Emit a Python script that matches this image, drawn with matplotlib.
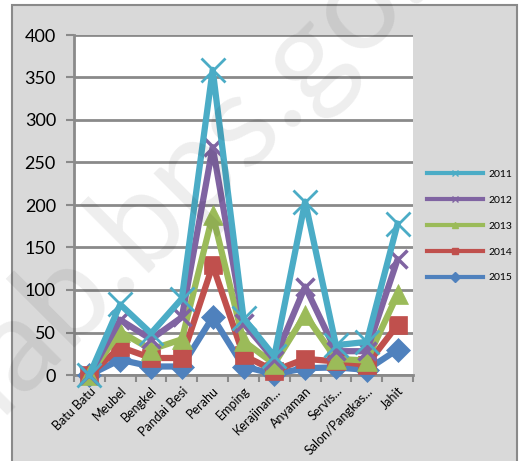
import matplotlib
matplotlib.use("Agg")
import matplotlib.pyplot as plt
from matplotlib.lines import Line2D
from matplotlib.patches import Rectangle

plt.rcParams['font.family'] = ['Lato', 'DejaVu Sans']

categories = ["Batu Batu", "Meubel", "Bengkel", "Pandai Besi", "Perahu", "Emping",
              "Kerajinan...", "Anyaman", "Servis...", "Salon/Pangkas...", "Jahit"]
v2011 = [0, 83, 49, 90, 359, 67, 22, 204, 35, 39, 178]
v2012 = [0, 65, 42, 68, 268, 61, 18, 104, 28, 28, 136]
v2013 = [0, 51, 30, 42, 188, 40, 13, 71, 19, 17, 95]
v2014 = [0, 33, 20, 20, 129, 23, 5, 19, 16, 12, 59]
v2015 = [0, 18, 10, 10, 68, 10, 1, 8, 9, 6, 30]
years = ["2011", "2012", "2013", "2014", "2015"]

W, H = 521, 461
fig = plt.figure(figsize=(W/100, H/100), dpi=100)
fig.patch.set_facecolor('white')
bg = Rectangle((12/W, -0.05), (517-12)/W, 1.05-5/H, transform=fig.transFigure,
               facecolor='#d9d9d9', edgecolor='#8a8a8a', linewidth=1.5, zorder=-10)
fig.add_artist(bg)

ax = fig.add_axes([74/W, 1-375/H, (413-74)/W, (375-35)/H])
ax.set_zorder(1)
ax.set_facecolor('white')

x = list(range(len(categories)))
series = [
    (v2015, '#4f81bd', 'D', 12, 1, "2015"),
    (v2014, '#c0504d', 's', 13, 1, "2014"),
    (v2013, '#9bbb59', '^', 14, 1, "2013"),
    (v2012, '#8064a2', 'x', 13, 2.5, "2012"),
    (v2011, '#4bacc6', 'x', 17, 2, "2011"),
]
for vals, col, mk, ms, mew, lab in series:
    ax.plot(x, vals, color=col, linewidth=4.5, marker=mk, markersize=ms,
            markeredgewidth=mew if mk == 'x' else 0.5, markeredgecolor=col,
            markerfacecolor=col, zorder=3, clip_on=False)

ax.set_xlim(-0.5, len(categories) - 0.5)
ax.set_ylim(0, 400)
ax.set_yticks(range(0, 401, 50))
ax.tick_params(axis='y', labelsize=13, length=6, width=1.5, color='#8a8a8a', pad=7)
ax.yaxis.grid(True, color='#8a8a8a', linewidth=2)
ax.set_axisbelow(True)
ax.set_xticks(x)
ax.set_xticklabels(categories, rotation=45, ha='right', rotation_mode='anchor', fontsize=9)
ax.tick_params(axis='x', length=0, pad=7)
ax.set_xticks([i + 0.5 for i in range(-1, len(categories))], minor=True)
ax.tick_params(axis='x', which='minor', length=5, width=1.5, color='#8a8a8a')
for s in ['top', 'right']:
    ax.spines[s].set_visible(False)
for s in ['left', 'bottom']:
    ax.spines[s].set_color('#8a8a8a')
    ax.spines[s].set_linewidth(2)

handles = []
for vals, col, mk, ms, mew, lab in reversed(series):
    handles.append(Line2D([0], [0], color=col, linewidth=3, marker=mk, markersize=5,
                          markeredgecolor=col, markerfacecolor=col, label=lab))
fig.legend(handles=handles, loc='upper left', bbox_to_anchor=(418/W, 1-160/H),
           frameon=False, fontsize=7.5, handlelength=5.3, labelspacing=1.6,
           handletextpad=0.6)

fig.text(225/W, 1-135/H, "lab.bps.go.id", fontsize=95, rotation=45, color='black',
         alpha=0.07, ha='center', va='center', zorder=10)

fig.savefig("out.png", dpi=100)
